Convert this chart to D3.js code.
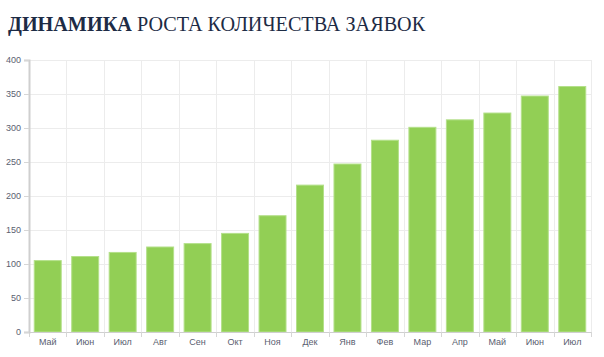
<!DOCTYPE html>
<meta charset="utf-8">
<style>
body { margin: 0; padding: 0; background: #fff; }
.title { font-family: "Liberation Serif", "Times New Roman", serif; font-size: 20.2px; fill: #1d2b45; }
.axis text { font-family: "Liberation Sans", Arial, sans-serif; font-size: 9px; fill: #5a6070; }
.axis .domain { stroke: #cfcfcf; }
.axis .tick line { stroke: #d6d6d6; }
.grid line { stroke: #ececec; }
.grid .domain { display: none; }
</style>
<svg width="604" height="357"></svg>
<script src="https://d3js.org/d3.v7.min.js"></script>
<script>

var months = ["Май", "Июн", "Июл", "Авг", "Сен", "Окт", "Ноя", "Дек", "Янв", "Фев", "Мар", "Апр", "Май", "Июн", "Июл"];
var requests = [105, 111, 117, 125, 130, 145, 171, 216, 247, 282, 301, 312, 322, 347, 361];
var yTicks = [0, 50, 100, 150, 200, 250, 300, 350, 400];

var svg = d3.select("svg"),
    margin = {top: 60, right: 13, bottom: 25, left: 29},
    width = +svg.attr("width") - margin.left - margin.right,
    height = +svg.attr("height") - margin.top - margin.bottom,
    g = svg.append("g").attr("transform", "translate(" + margin.left + "," + margin.top + ")");

// month names repeat, so the band scale is keyed by index
var x = d3.scaleBand()
    .domain(d3.range(months.length))
    .range([0, width])
    .paddingInner(0.28)
    .paddingOuter(0.14);

var y = d3.scaleLinear()
    .domain([0, 400])
    .range([height, 0]);

var step = x.step();
var edges = d3.range(0, months.length + 1).map(function(i) { return Math.round(i * step) + 0.5; });

// horizontal grid
g.append("g")
    .attr("class", "grid")
    .call(d3.axisLeft(y).tickValues(yTicks).tickSize(-width).tickFormat(""));

// vertical grid on band edges
g.append("g")
    .attr("class", "grid")
    .selectAll("line")
    .data(edges.slice(1))
    .enter().append("line")
      .attr("x1", function(d) { return d; })
      .attr("x2", function(d) { return d; })
      .attr("y1", 0)
      .attr("y2", height);

g.append("g")
  .selectAll("rect")
  .data(requests)
  .enter().append("rect")
    .attr("x", function(d, i) { return x(i); })
    .attr("y", function(d) { return y(d); })
    .attr("width", x.bandwidth())
    .attr("height", function(d) { return height - y(d); })
    .attr("fill", "#92cf55")
    .attr("stroke", "#b4e08a")
    .attr("stroke-width", 1);

var xAxis = g.append("g")
    .attr("class", "axis")
    .attr("transform", "translate(0," + height + ")")
    .call(d3.axisBottom(x).tickSize(0).tickPadding(7).tickFormat(function(i) { return months[i]; }));

xAxis.selectAll(".bnd")
    .data(edges)
    .enter().append("line")
      .attr("class", "bnd")
      .attr("stroke", "#d6d6d6")
      .attr("x1", function(d) { return d; })
      .attr("x2", function(d) { return d; })
      .attr("y1", 0)
      .attr("y2", 5);

var yAxis = g.append("g")
    .attr("class", "axis")
    .call(d3.axisLeft(y).tickValues(yTicks).tickSize(5).tickPadding(3));
yAxis.select(".domain").attr("stroke-width", 2);

svg.append("text")
    .attr("class", "title")
    .attr("x", 8)
    .attr("y", 31)
    .html("<tspan font-weight='bold'>ДИНАМИКА</tspan> РОСТА КОЛИЧЕСТВА ЗАЯВОК");

</script>
